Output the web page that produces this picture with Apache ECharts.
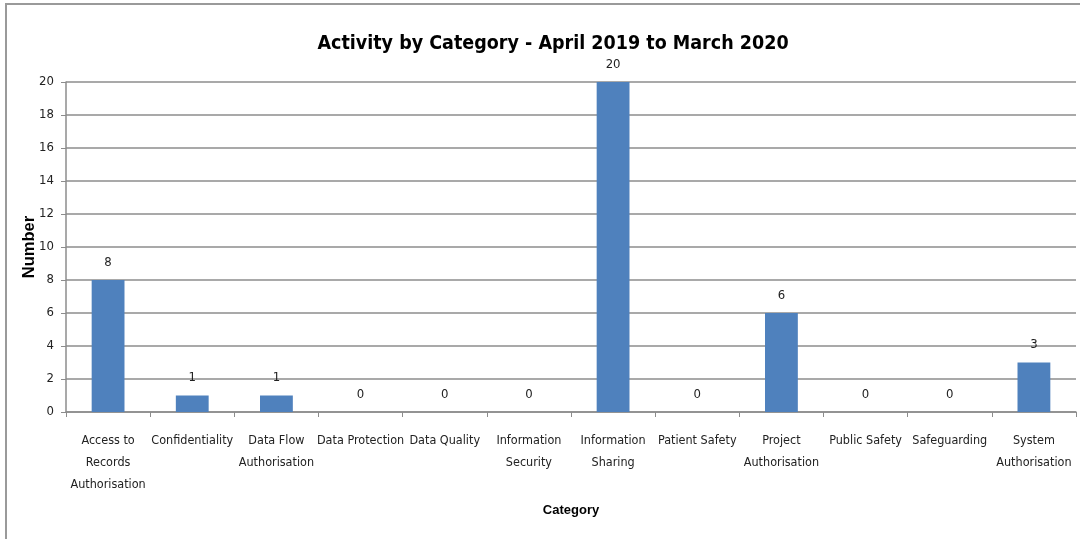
<!DOCTYPE html>
<html>
<head>
<meta charset="utf-8">
<script src="https://cdn.jsdelivr.net/npm/echarts@6/dist/echarts.min.js"></script>
<style>
  html, body { margin: 0; padding: 0; background: #fff; overflow: hidden; }
  #frame {
    position: absolute;
    left: 5px;
    top: 3px;
    width: 1200px;
    height: 700px;
    border: 2px solid #9a9a9a;
  }
  #chart { position: absolute; left: 0; top: 0; width: 1080px; height: 539px; }
</style>
</head>
<body>
<div id="frame"></div>
<div id="chart"></div>
<script>
// categories as they appear under the axis (wrapped like the original)
var categories = [
  "Access to\nRecords\nAuthorisation",
  "Confidentiality",
  "Data Flow\nAuthorisation",
  "Data Protection",
  "Data Quality",
  "Information\nSecurity",
  "Information\nSharing",
  "Patient Safety",
  "Project\nAuthorisation",
  "Public Safety",
  "Safeguarding",
  "System\nAuthorisation"
];
var counts = [8, 1, 1, 0, 0, 0, 20, 0, 6, 0, 0, 3];

var font = "'Liberation Sans Narrow', 'DejaVu Sans Condensed', sans-serif";

var myChart = echarts.init(document.getElementById("chart"));

var option = {
  backgroundColor: "transparent",
  animation: false,
  title: {
    text: "Activity by Category - April 2019 to March 2020",
    left: 548,
    textAlign: "center",
    top: 29,
    textStyle: {
      fontFamily: font,
      fontSize: 19.5,
      fontWeight: "bold",
      color: "#000"
    }
  },
  grid: {
    left: 66,
    right: 4,
    top: 82,
    bottom: 127,
    containLabel: false
  },
  xAxis: {
    type: "category",
    data: categories,
    name: "Category",
    nameLocation: "middle",
    nameGap: 92,
    nameMoveOverlap: false,
    nameTextStyle: {
      fontFamily: "'Liberation Sans', Arial, sans-serif",
      fontSize: 13,
      fontWeight: "bold",
      color: "#000"
    },
    axisLine: { show: true, lineStyle: { color: "#8c8c8c", width: 1.5 } },
    axisTick: { show: true, length: 5, alignWithLabel: false, lineStyle: { color: "#8c8c8c" } },
    axisLabel: {
      interval: 0,
      margin: 18,
      fontFamily: font,
      fontSize: 12.5,
      lineHeight: 22,
      color: "#222"
    }
  },
  yAxis: {
    type: "value",
    min: 0,
    max: 20,
    interval: 2,
    name: "Number",
    nameLocation: "middle",
    nameGap: 28,
    nameMoveOverlap: false,
    nameRotate: 90,
    nameTextStyle: {
      fontFamily: "'Liberation Sans', Arial, sans-serif",
      fontSize: 16.5,
      fontWeight: "bold",
      color: "#000"
    },
    axisLine: { show: true, lineStyle: { color: "#8c8c8c", width: 1.5 } },
    axisTick: { show: true, length: 5, lineStyle: { color: "#8c8c8c" } },
    axisLabel: {
      margin: 12,
      fontFamily: font,
      fontSize: 13,
      color: "#222"
    },
    splitLine: { show: true, lineStyle: { color: "#8c8c8c", width: 1.5 } }
  },
  series: [
    {
      name: "Number",
      type: "bar",
      data: counts,
      barWidth: "39%",
      itemStyle: { color: "#4f81bd" },
      label: {
        show: true,
        position: "top",
        distance: 11,
        fontFamily: font,
        fontSize: 13,
        color: "#222"
      }
    }
  ]
};

myChart.setOption(option);
</script>
</body>
</html>
